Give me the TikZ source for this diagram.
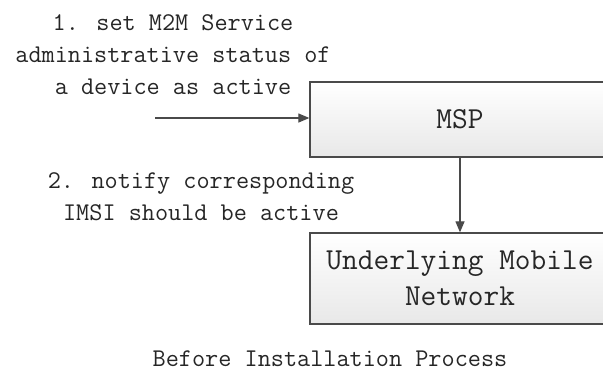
\documentclass[tikz,border=0pt]{standalone}
\usepackage{fontspec}
\usetikzlibrary{arrows.meta}
\definecolor{txt}{HTML}{262626}
\definecolor{edge}{HTML}{4A4A4A}
\tikzset{
  annot/.style={font={\ttfamily\addfontfeatures{FakeBold=2}\fontsize{25.5}{32}\selectfont}, text=txt, align=center, inner sep=0pt},
  boxtxt/.style={font={\ttfamily\addfontfeatures{FakeBold=2}\fontsize{30.5}{36}\selectfont}, text=txt, align=center},
  sysbox/.style={draw=edge, line width=1.3pt, top color=white, bottom color=black!9, minimum width=300pt, inner sep=0pt},
  link/.style={draw=edge, line width=1.2pt, -{Triangle[length=11pt,width=9pt]}}
}
\begin{document}
\begin{tikzpicture}[x=1pt,y=-1pt]
\clip (0,0) rectangle (603,376);
\fill[white] (0,0) rectangle (603,376);
\node[sysbox, boxtxt, minimum height=75pt] (msp) at (460,119.5) {MSP};
\node[sysbox, boxtxt, minimum height=91pt] (umn) at (460,278.5) {Underlying Mobile\\Network};
\coordinate (src) at (155,118);
\draw[link] (src) -- (src -| msp.west);
\draw[link] (msp.south) -- (umn.north);
\node[annot] (a1) at (173,55) {1. set M2M Service\\administrative status of\\a device as active};
\node[annot] (a2) at (201,197) {2. notify corresponding\\IMSI should be active};
\node[annot] (title) at (330,359) {Before Installation Process};
\end{tikzpicture}
\end{document}
